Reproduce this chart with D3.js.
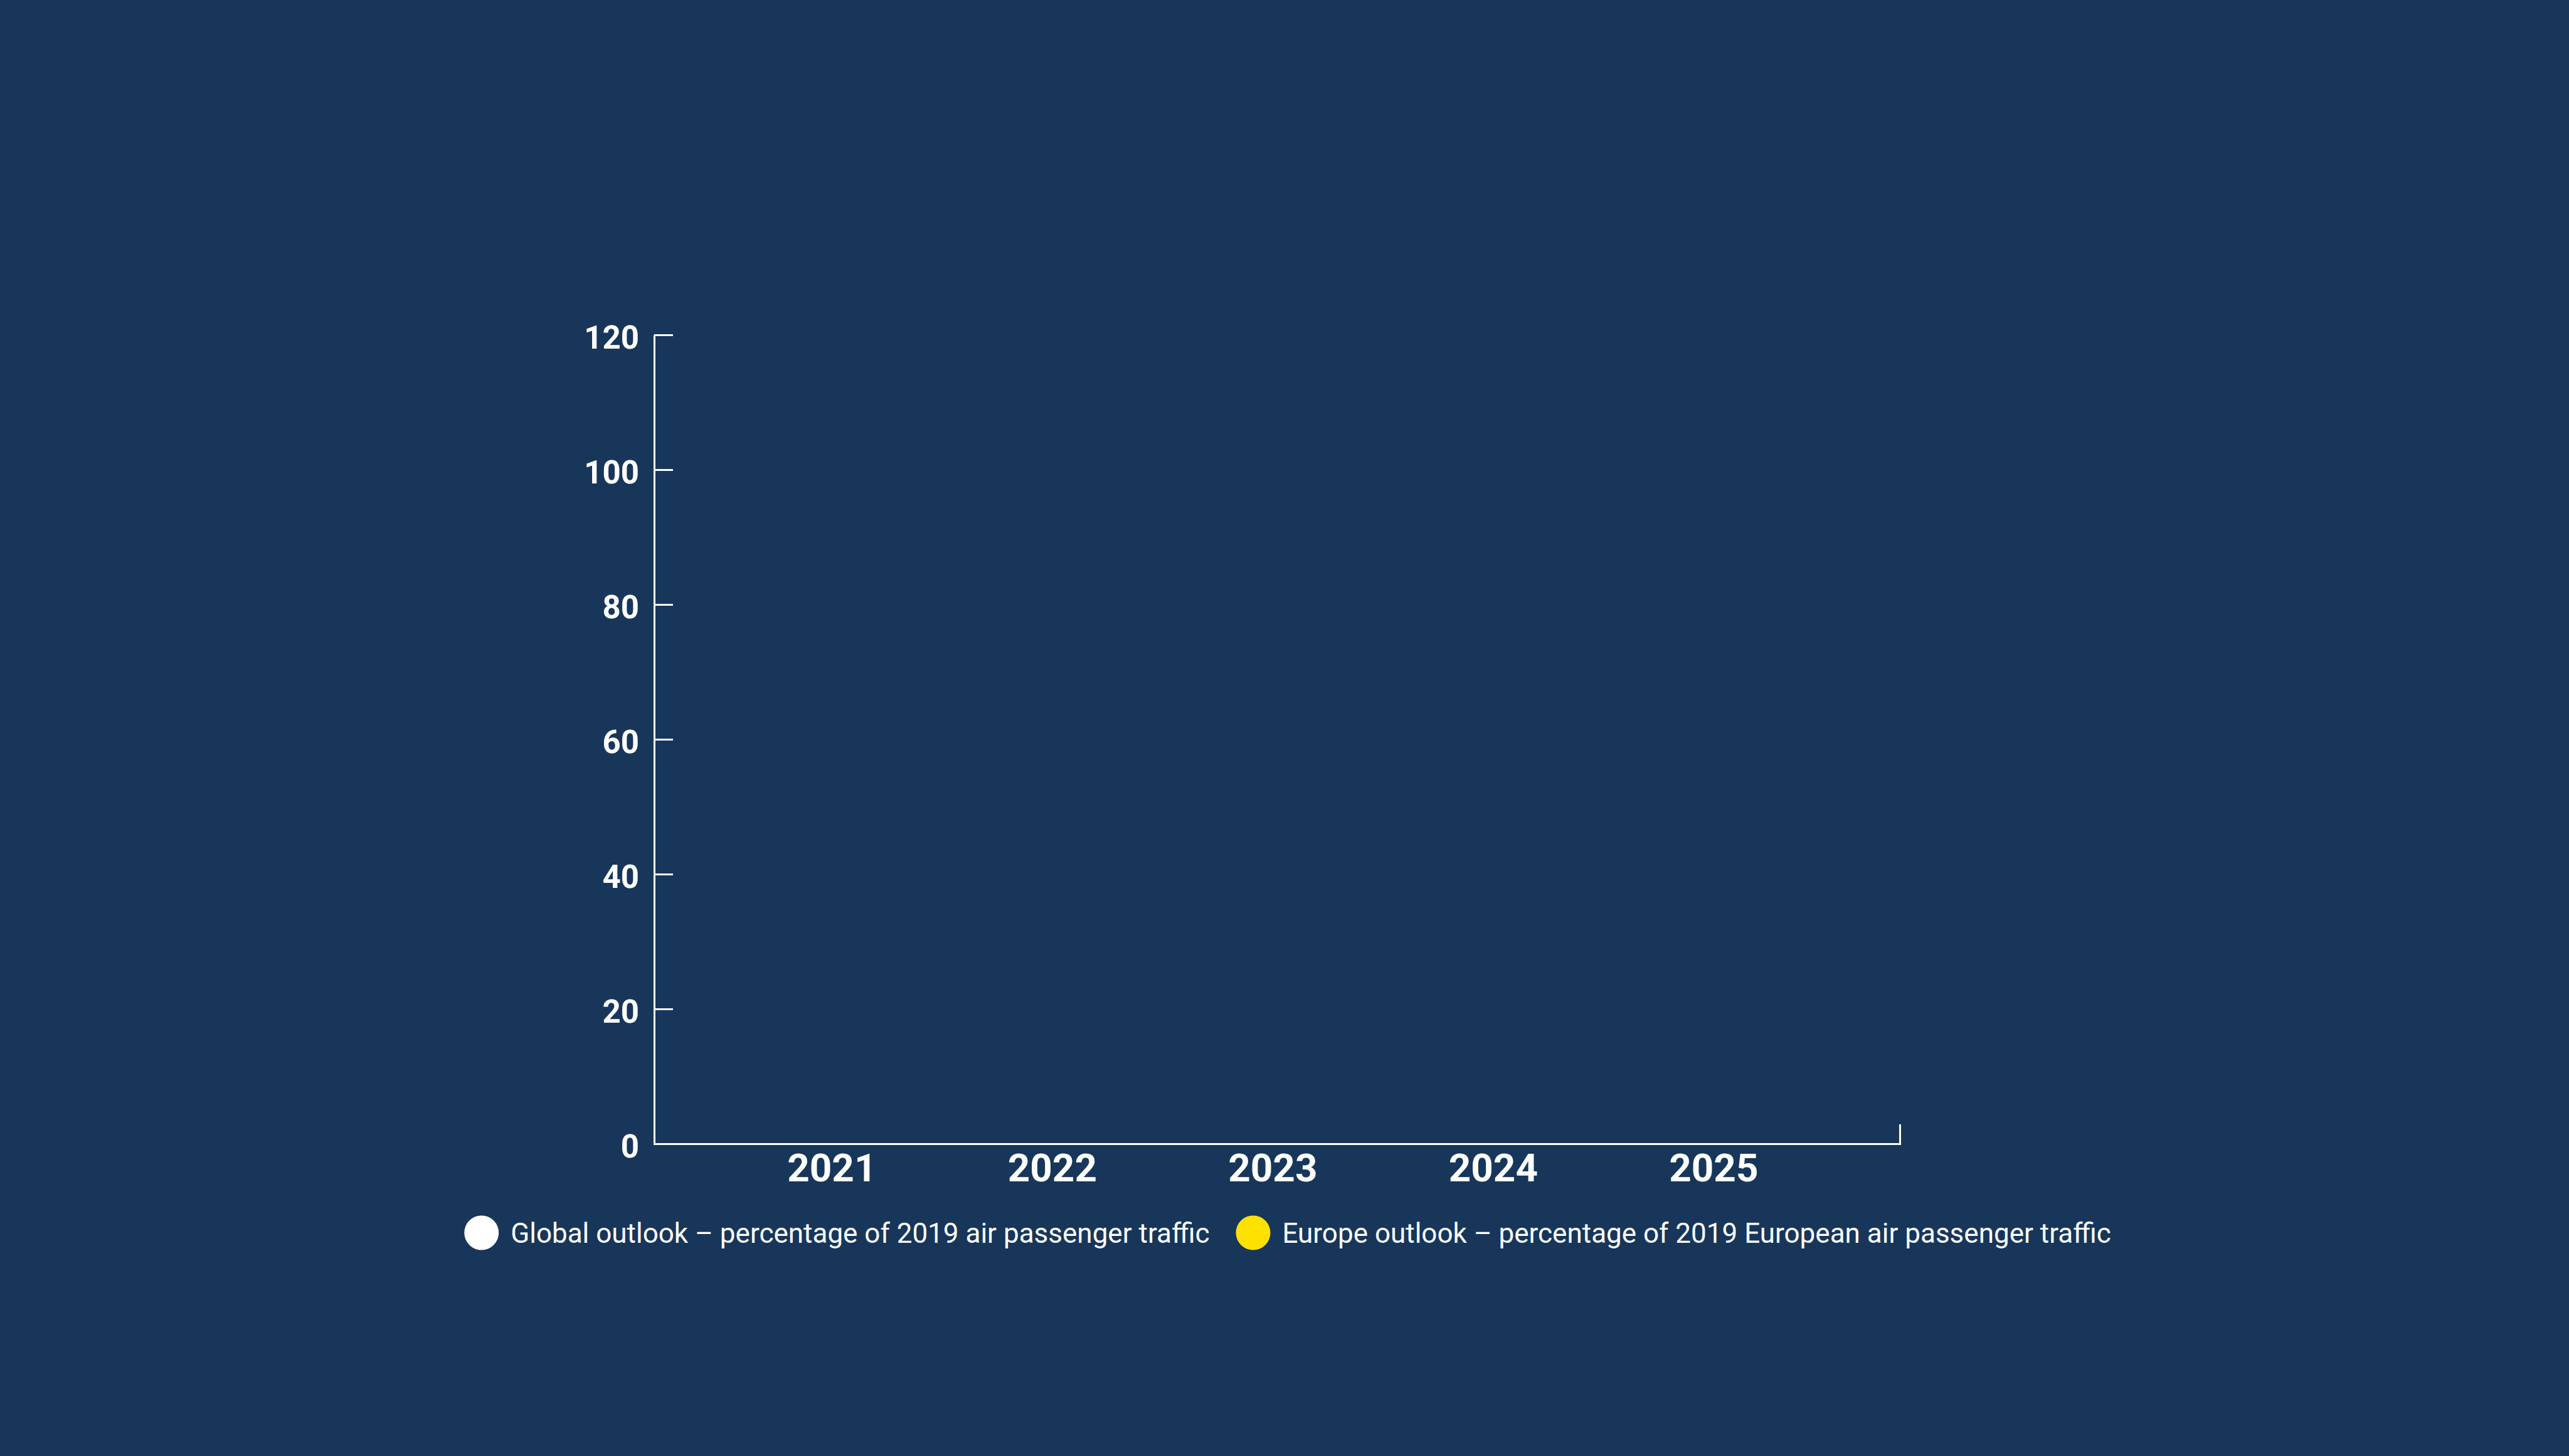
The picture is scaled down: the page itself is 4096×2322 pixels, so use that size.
<!DOCTYPE html>
<html>
<head>
<meta charset="utf-8">
<script src="https://cdn.jsdelivr.net/npm/d3@7"></script>
<style>
  html, body { margin: 0; padding: 0; background: #17365a; }
  svg { display: block; }
</style>
</head>
<body>
<script>
// ---- Data (no values are visible in the reference: the chart is drawn empty) ----
const categories = ["2021", "2022", "2023", "2024", "2025"];
const globalValues = [null, null, null, null, null];   // Global outlook – % of 2019 traffic
const europeValues = [null, null, null, null, null];   // Europe outlook – % of 2019 European traffic
const yTicks = [0, 20, 40, 60, 80, 100, 120];
const seriesNames = [
  "Global outlook – percentage of 2019 air passenger traffic",
  "Europe outlook – percentage of 2019 European air passenger traffic"
];
const seriesColors = ["#ffffff", "#ffe100"];

// ---- Layout ----
const W = 4096, H = 2322;
const x0 = 1043, x1 = 3029, yTop = 534, yBottom = 1824;

const svg = d3.select("body").append("svg")
  .attr("width", W).attr("height", H);

svg.append("rect").attr("width", W).attr("height", H).attr("fill", "#17365a");

const x = d3.scaleBand().domain(categories).range([x0, x1])
  .paddingInner(0.3).paddingOuter(0.475).align(0.48);
const xSub = d3.scaleBand().domain([0, 1]).range([0, x.bandwidth()]).padding(0.1);
const y = d3.scaleLinear().domain([0, 120]).range([yBottom, yTop]);

// bars (only for values that exist)
const series = [globalValues, europeValues];
series.forEach((vals, si) => {
  svg.append("g").selectAll("rect")
    .data(categories.map((c, i) => ({ c, v: vals[i] })).filter(d => d.v != null))
    .join("rect")
    .attr("x", d => x(d.c) + xSub(si))
    .attr("width", xSub.bandwidth())
    .attr("y", d => y(d.v))
    .attr("height", d => y(0) - y(d.v))
    .attr("fill", seriesColors[si]);
});

// y axis
const yAxis = svg.append("g")
  .attr("transform", `translate(${x0},0)`)
  .call(d3.axisLeft(y).tickValues(yTicks).tickSize(-30).tickSizeOuter(0).tickPadding(24));
yAxis.selectAll("path, line").attr("stroke", "#ffffff").attr("stroke-width", 3);
yAxis.selectAll("text")
  .attr("fill", "#ffffff")
  .style("font-family", "Roboto, 'Open Sans', sans-serif")
  .style("font-weight", 700)
  .style("font-size", "51px")
  .attr("dy", "0.42em");

// x axis
const xAxis = svg.append("g")
  .attr("transform", `translate(0,${yBottom})`)
  .call(d3.axisBottom(x).tickSize(0).tickSizeOuter(-31).tickPadding(16));
xAxis.selectAll("path, line").attr("stroke", "#ffffff").attr("stroke-width", 3);
xAxis.selectAll("text")
  .attr("fill", "#ffffff")
  .style("font-family", "Roboto, 'Open Sans', sans-serif")
  .style("font-weight", 700)
  .style("font-size", "62px");

// legend
const legend = svg.append("g");
let cx = 0;
const r = 27.5;
seriesNames.forEach((name, i) => {
  const g = legend.append("g").attr("transform", `translate(${cx},0)`);
  g.append("circle").attr("cx", r).attr("cy", 0).attr("r", r).attr("fill", seriesColors[i]);
  const t = g.append("text")
    .attr("x", 2 * r + 19)
    .attr("y", 0)
    .attr("dy", "0.36em")
    .attr("fill", "#ffffff")
    .style("font-family", "Roboto, 'Open Sans', sans-serif")
    .style("font-weight", 400)
    .style("font-size", "44px")
    .text(name);
  cx += 2 * r + 19 + t.node().getComputedTextLength() + 42;
});
const totalW = cx - 42;
legend.attr("transform", `translate(${2053 - totalW / 2},1966)`);
</script>
</body>
</html>
